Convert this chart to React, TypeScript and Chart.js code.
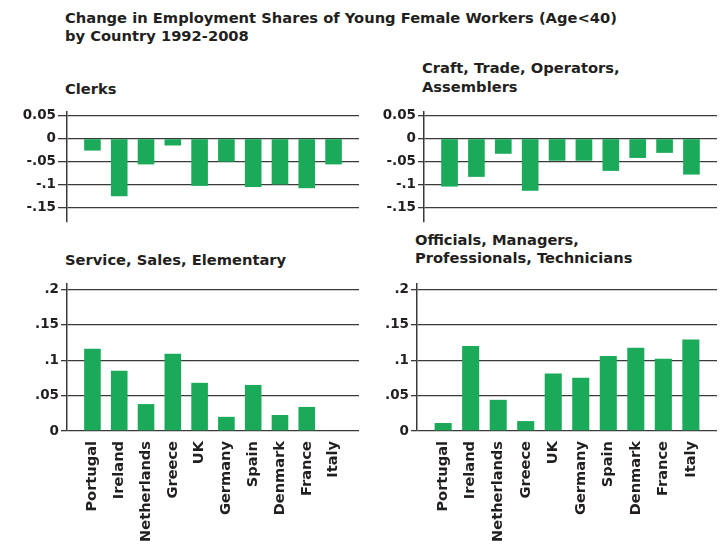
import React, { useEffect, useRef } from 'react';
import { Chart, registerables } from 'chart.js';

Chart.register(...registerables);

const countries = ['Portugal', 'Ireland', 'Netherlands', 'Greece', 'UK', 'Germany', 'Spain', 'Denmark', 'France', 'Italy'];
const clerks = [-0.026, -0.125, -0.056, -0.015, -0.1025, -0.05, -0.105, -0.0995, -0.1075, -0.056];
const craft = [-0.104, -0.083, -0.033, -0.113, -0.048, -0.048, -0.07, -0.042, -0.031, -0.078];
const service = [0.116, 0.085, 0.038, 0.109, 0.068, 0.02, 0.065, 0.0226, 0.034, 0];
const officials = [0.0113, 0.12, 0.044, 0.014, 0.081, 0.075, 0.106, 0.1175, 0.102, 0.129];

const topTickValues = [0.05, 0, -0.05, -0.1, -0.15];
const topTickLabels = ['0.05', '0', '-.05', '-.1', '-.15'];
const bottomTickValues = [0.2, 0.15, 0.1, 0.05, 0];
const bottomTickLabels = ['.2', '.15', '.1', '.05', '0'];

const mainTitle = ['Change in Employment Shares of Young Female Workers (Age<40)', 'by Country 1992-2008'];
const clerksTitle = ['Clerks'];
const craftTitle = ['Craft, Trade, Operators,', 'Assemblers'];
const serviceTitle = ['Service, Sales, Elementary'];
const officialsTitle = ['Officials, Managers,', 'Professionals, Technicians'];

const BAR = '#1BAA5A';
const INK = '#231F20';
const GRID = '#3A3A3A';
const FONT = "'DejaVu Sans', sans-serif";

type PanelProps = {
  values: number[];
  tickValues: number[];
  tickLabels: string[];
  yMin: number;
  yMax: number;
  showX: boolean;
  axisWidth: number;
  tickLength: number;
  left: number;
  top: number;
  width: number;
  height: number;
};

function Panel(p: PanelProps) {
  const ref = useRef<HTMLCanvasElement | null>(null);
  useEffect(() => {
    if (!ref.current) return;
    const chart = new Chart(ref.current, {
      type: 'bar',
      data: {
        datasets: [
          {
            data: p.values.map((v, i) => ({ x: i, y: v })),
            backgroundColor: BAR,
            borderWidth: 0,
            barPercentage: 0.62,
            categoryPercentage: 1,
          },
        ],
      },
      options: {
        animation: false,
        responsive: false,
        maintainAspectRatio: false,
        layout: { padding: { top: 12, right: 3, bottom: p.showX ? 0 : 10, left: 0 } },
        plugins: {
          legend: { display: false },
          tooltip: { enabled: false },
          title: { display: false },
        },
        scales: {
          x: {
            type: 'linear',
            offset: false,
            min: -0.95,
            max: 9.95,
            display: p.showX,
            afterBuildTicks: (s: any) => {
              s.ticks = countries.map((_, i) => ({ value: i }));
            },
            afterFit: (s: any) => {
              if (p.showX) s.height = 114;
            },
            grid: { display: false, drawTicks: false },
            border: { display: false },
            ticks: {
              autoSkip: false,
              minRotation: 90,
              maxRotation: 90,
              padding: 10,
              color: INK,
              font: { family: FONT, weight: 'bold', size: 14.6 },
              callback: (v: any) => countries[v as number] ?? '',
            },
          },
          y: {
            type: 'linear',
            min: p.yMin,
            max: p.yMax,
            afterBuildTicks: (s: any) => {
              s.ticks = p.tickValues.map((v) => ({ value: v }));
            },
            afterFit: (s: any) => {
              s.width = p.axisWidth;
            },
            grid: { color: GRID, lineWidth: 1.3, tickLength: p.tickLength, drawTicks: true },
            border: { display: true, color: GRID, width: 1.5 },
            ticks: {
              padding: 2,
              color: INK,
              font: { family: FONT, weight: 'bold', size: 13.5 },
              callback: (v: any) => {
                const idx = p.tickValues.indexOf(v as number);
                return idx >= 0 ? p.tickLabels[idx] : '';
              },
            },
          },
        },
      } as any,
    });
    return () => chart.destroy();
  }, []);
  return (
    <canvas
      ref={ref}
      width={p.width}
      height={p.height}
      style={{ position: 'absolute', left: p.left, top: p.top, width: p.width, height: p.height }}
    />
  );
}

function TextLines({ lines, left, firstBaseline, gap }: { lines: string[]; left: number; firstBaseline: number; gap: number }) {
  return (
    <>
      {lines.map((t, i) => (
        <div
          key={i}
          style={{
            position: 'absolute',
            left,
            top: firstBaseline + i * gap - 14.1,
            lineHeight: '18px',
            fontFamily: FONT,
            fontWeight: 'bold',
            fontSize: 14.7,
            color: INK,
            whiteSpace: 'nowrap',
          }}
        >
          {t}
        </div>
      ))}
    </>
  );
}

export default function App() {
  return (
    <div style={{ position: 'absolute', left: 0, top: 0, width: 723, height: 545, background: '#fff', overflow: 'hidden' }}>
      <TextLines lines={mainTitle} left={65} firstBaseline={22.7} gap={18} />
      <TextLines lines={clerksTitle} left={65} firstBaseline={94.3} gap={19} />
      <TextLines lines={craftTitle} left={422} firstBaseline={72.7} gap={19.5} />
      <TextLines lines={serviceTitle} left={65} firstBaseline={265} gap={19} />
      <TextLines lines={officialsTitle} left={415} firstBaseline={245} gap={18.5} />

      <Panel values={clerks} tickValues={topTickValues} tickLabels={topTickLabels} yMin={-0.1805} yMax={0.0575}
        showX={false} axisWidth={67} tickLength={9} left={0} top={100} width={362} height={132} />
      <Panel values={craft} tickValues={topTickValues} tickLabels={topTickLabels} yMin={-0.1805} yMax={0.0575}
        showX={false} axisWidth={67} tickLength={6} left={357} top={100} width={363} height={132} />
      <Panel values={service} tickValues={bottomTickValues} tickLabels={bottomTickLabels} yMin={0} yMax={0.2075}
        showX={true} axisWidth={67} tickLength={6} left={0} top={272} width={362} height={273} />
      <Panel values={officials} tickValues={bottomTickValues} tickLabels={bottomTickLabels} yMin={0} yMax={0.2075}
        showX={true} axisWidth={60} tickLength={6} left={357} top={272} width={363} height={273} />
    </div>
  );
}
